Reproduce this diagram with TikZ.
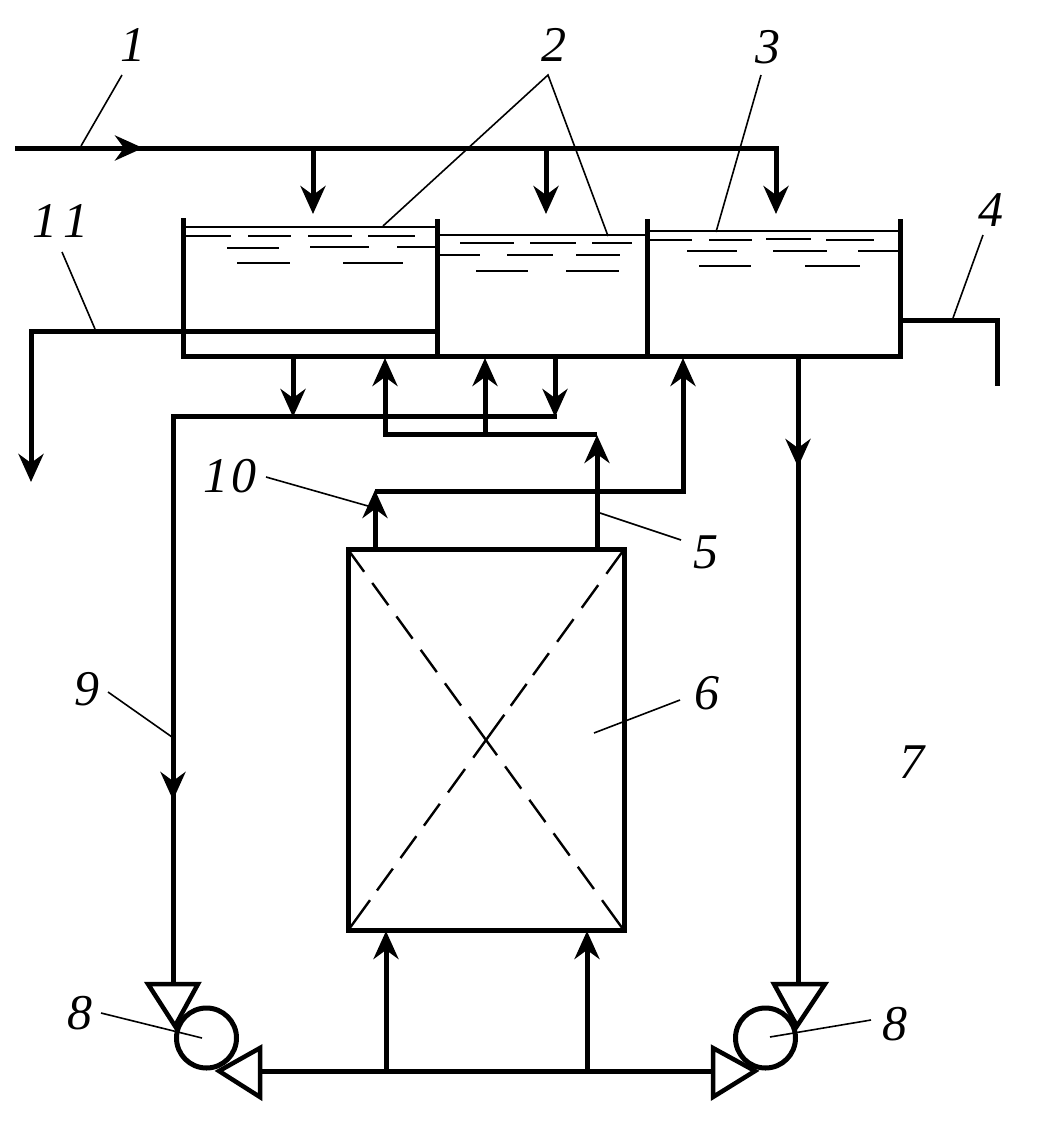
\documentclass[tikz,border=0pt]{standalone}
\usepackage{fontspec}
\setmainfont{Liberation Serif}
\usetikzlibrary{arrows.meta,calc}
\tikzset{
  pipe/.style={line width=5pt,line cap=butt,line join=miter},
  flow/.style={pipe,-{Stealth[length=28pt,width=25pt,inset=9pt]}},
  water/.style={line width=2pt},
  leader/.style={line width=1.6pt},
  crossa/.style={line width=2.4pt,dash pattern=on 27.5pt off 13.8pt on 27.5pt off 13.8pt on 27.5pt off 13.8pt on 27.5pt off 13.8pt on 27.5pt off 13.8pt on 47.5pt off 13.8pt on 27.5pt off 13.8pt on 27.5pt off 13.8pt on 27.5pt off 13.8pt on 27.5pt off 13.8pt on 40pt off 10pt},
  crossb/.style={line width=2.4pt,dash pattern=on 30pt off 14pt on 28pt off 14pt on 28pt off 14pt on 27pt off 11pt on 27pt off 11pt on 53pt off 14pt on 29pt off 14pt on 27pt off 13pt on 27pt off 13pt on 27pt off 12pt on 40pt off 10pt},
  tag/.style={font=\fontsize{50}{50}\selectfont\itshape,inner sep=0pt},
  valve/.style={line width=4.5pt,line join=miter,fill=white},
  pumpbody/.style={circle,draw,line width=5pt,minimum size=60pt,inner sep=0pt,outer sep=0pt},
  vessel/.style={rectangle,draw,line width=5pt,minimum width=276pt,minimum height=381pt,inner sep=0pt,outer sep=0pt}
}
\begin{document}
\begin{tikzpicture}[x=1pt,y=-1pt]
\useasboundingbox (0,0) rectangle (1047,1136);
\fill[white] (0,0) rectangle (1047,1136);

% feed line
\coordinate (feedS) at (15,148);
\coordinate (feedA) at (143,148);
\coordinate (feedE) at (778.5,148);
\coordinate (d1a) at (313,148); \coordinate (d1b) at (313,214);
\coordinate (d2a) at (546,148); \coordinate (d2b) at (546,214);
\coordinate (d3a) at (776,148); \coordinate (d3b) at (776,214);
\draw[pipe] (feedS) -- (feedE);
\draw[flow] (feedS) -- (feedA);
\draw[flow] (d1a) -- (d1b);
\draw[flow] (d2a) -- (d2b);
\draw[flow] (d3a) -- (d3b);

% tanks
\coordinate (tlt) at (183,218); \coordinate (tlb) at (183,356);
\coordinate (t2t) at (437.5,219); \coordinate (t2b) at (437.5,356);
\coordinate (t3t) at (647,219); \coordinate (t3b) at (647,356);
\coordinate (trt) at (900,219); \coordinate (trb) at (900,356);
\draw[pipe] (tlt) -- (tlb) -- (trb) -- (trt);
\draw[pipe] (t2t) -- (t2b);
\draw[pipe] (t3t) -- (t3b);

% water surfaces
\draw[water] (183,227) -- (437,227);
\draw[water] (437,235) -- (647,235);
\draw[water] (647,231) -- (900,231);
\foreach \y/\a/\b in {236/186/231,236/248/291,236/308/352,236/368/415,
  247/310/369,247/397/435,248/227/279,263/237/290,263/343/403,
  243/460/514,243/530/576,243/592/632,255/440/480,255/507/553,255/576/620,
  271/476/528,271/566/619,
  240/650/692,240/709/752,239/766/811,240/826/874,
  251/687/737,251/773/827,251/858/899,266/699/751,266/805/860}
  \draw[water] (\a,\y) -- (\b,\y);

% overflow 4
\coordinate (o4a) at (900,320); \coordinate (o4b) at (997,320); \coordinate (o4c) at (997,386);
\draw[pipe] (o4a) -- (o4b) -- (o4c);

% line 11
\coordinate (l11a) at (437,331); \coordinate (l11b) at (31,331); \coordinate (l11c) at (31,482);
\draw[flow] (l11a) -- (l11b) -- (l11c);

% vessel 6
\node[vessel] (vessel) at (486,740) {};
\draw[crossa] (vessel.north west) -- (vessel.south east);
\draw[crossb] (vessel.north east) -- (vessel.south west);

% pumps
\node[pumpbody] (pumpL) at (206.5,1038) {};
\node[pumpbody] (pumpR) at (765.5,1038) {};
\coordinate (tLa) at (148,984); \coordinate (tLb) at (198,984); \coordinate (tLc) at (175,1026);
\coordinate (hLa) at (260,1048); \coordinate (hLb) at (260,1097); \coordinate (hLc) at (219,1071);
\coordinate (tRa) at (774,984); \coordinate (tRb) at (825,984); \coordinate (tRc) at (797,1026);
\coordinate (hRa) at (713,1048); \coordinate (hRb) at (713,1097); \coordinate (hRc) at (755,1071);
\draw[valve] (tLa) -- (tLb) -- (tLc) -- cycle;
\draw[valve] (hLa) -- (hLb) -- (hLc) -- cycle;
\draw[valve] (tRa) -- (tRb) -- (tRc) -- cycle;
\draw[valve] (hRa) -- (hRb) -- (hRc) -- cycle;

% return line 9
\coordinate (r9a) at (557,416); \coordinate (r9b) at (173,416); \coordinate (r9c) at (173,800); \coordinate (r9d) at (173,984);
\draw[pipe] (r9a) -- (r9b) -- (r9d);
\draw[flow] (r9b) -- (r9c);
\coordinate (s1a) at (293,356); \coordinate (s1b) at (293,417);
\coordinate (s2a) at (555,356); \coordinate (s2b) at (555,417);
\draw[flow] (s1a) -- (s1b);
\draw[flow] (s2a) -- (s2b);

% right discharge
\coordinate (r7a) at (798,356); \coordinate (r7b) at (798,467); \coordinate (r7c) at (798,984);
\draw[pipe] (r7a) -- (r7c);
\draw[flow] (r7a) -- (r7b);

% line 5 from vessel
\coordinate (v5a) at (597,549); \coordinate (v5b) at (597,435);
\coordinate (h5a) at (597,434); \coordinate (h5b) at (385,434); \coordinate (h5c) at (385,358);
\coordinate (m5a) at (485,434); \coordinate (m5b) at (485,358);
\draw[flow] (v5a) -- (v5b);
\draw[flow] (h5a) -- (h5b) -- (h5c);
\draw[flow] (m5a) -- (m5b);

% line 10 from vessel
\coordinate (v10a) at (375,549); \coordinate (v10b) at (375,490);
\coordinate (h10a) at (375,491); \coordinate (h10b) at (683,491); \coordinate (h10c) at (683,358);
\draw[flow] (v10a) -- (v10b);
\draw[flow] (h10a) -- (h10b) -- (h10c);

% feed to vessel
\coordinate (b1) at (262,1071); \coordinate (b2) at (712,1071);
\coordinate (u1a) at (386,1071); \coordinate (u1b) at (386,931);
\coordinate (u2a) at (587,1071); \coordinate (u2b) at (587,931);
\draw[pipe] (b1) -- (b2);
\draw[flow] (u1a) -- (u1b);
\draw[flow] (u2a) -- (u2b);

% labels
\node[tag] (n1) at (133,45) {1};
\node[tag] (n2) at (554,45) {2};
\node[tag] (n3) at (768,47) {3};
\node[tag] (n4) at (991,210) {4};
\node[tag] (n5) at (706,552) {5};
\node[tag] (n6) at (707,693) {6};
\node[tag] (n7) at (912,762) {7};
\node[tag] (n8a) at (80,1013) {8};
\node[tag] (n8b) at (895,1024) {8};
\node[tag] (n9) at (87,689) {9};
\node[tag] (n10) at (230,476) {1\kern3pt0};
\node[tag] (n11) at (60,221) {1\kern6pt1};

% leaders
\coordinate (a1) at (122,75); \coordinate (e1) at (81,146);
\coordinate (a2) at (548,75); \coordinate (e2a) at (383,226); \coordinate (e2b) at (608,236);
\coordinate (a3) at (761,75); \coordinate (e3) at (716,232);
\coordinate (a4) at (983,235); \coordinate (e4) at (953,318);
\coordinate (a5) at (681,540); \coordinate (e5) at (600,513);
\coordinate (a6) at (680,700); \coordinate (e6) at (594,733);
\coordinate (a8) at (101,1013); \coordinate (e8) at (202,1038);
\coordinate (b8) at (871,1020); \coordinate (f8) at (770,1037);
\coordinate (a9) at (108,692); \coordinate (e9) at (172,737);
\coordinate (a10) at (266,477); \coordinate (e10) at (368,506);
\coordinate (a11) at (62,252); \coordinate (e11) at (95,329);
\draw[leader] (a1) -- (e1);
\draw[leader] (e2a) -- (a2) -- (e2b);
\draw[leader] (a3) -- (e3);
\draw[leader] (a4) -- (e4);
\draw[leader] (a5) -- (e5);
\draw[leader] (a6) -- (e6);
\draw[leader] (a8) -- (e8);
\draw[leader] (b8) -- (f8);
\draw[leader] (a9) -- (e9);
\draw[leader] (a10) -- (e10);
\draw[leader] (a11) -- (e11);
\end{tikzpicture}
\end{document}
